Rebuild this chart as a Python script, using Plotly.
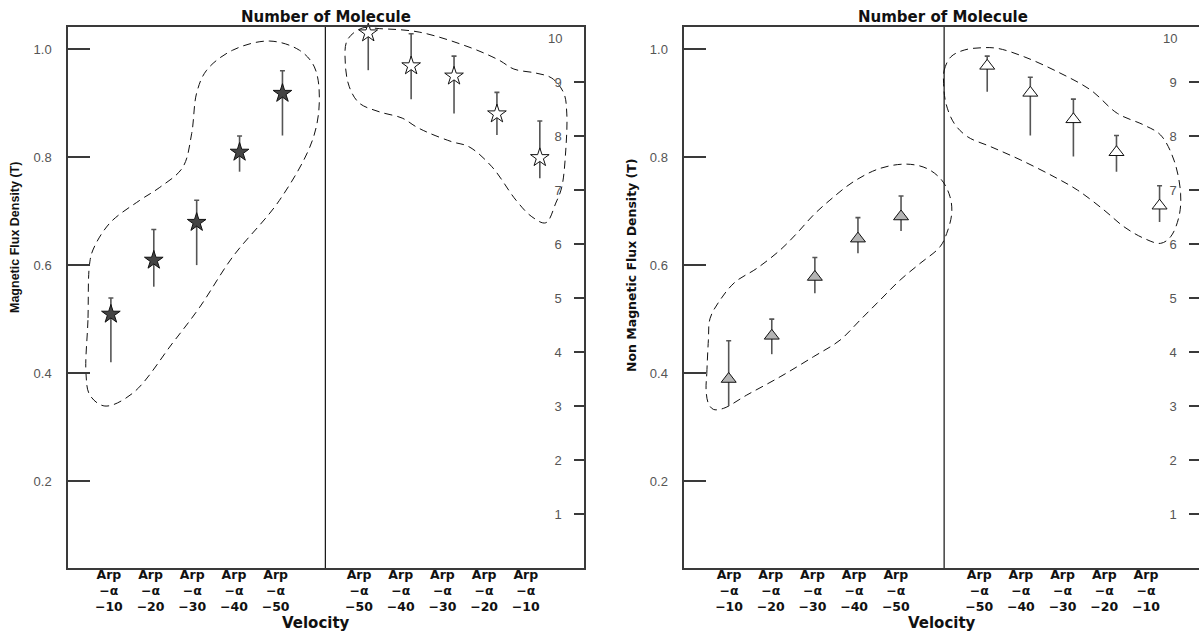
import plotly.graph_objects as go

W, H = 1199, 634
M_T, M_B = 27, 66

# ---------------- data ----------------
categories_left = ["Arp-α-10", "Arp-α-20", "Arp-α-30", "Arp-α-40", "Arp-α-50"]
categories_right = ["Arp-α-50", "Arp-α-40", "Arp-α-30", "Arp-α-20", "Arp-α-10"]
tick_text = ["Arp<br>−α<br>−10", "Arp<br>−α<br>−20", "Arp<br>−α<br>−30", "Arp<br>−α<br>−40", "Arp<br>−α<br>−50",
             "Arp<br>−α<br>−50", "Arp<br>−α<br>−40", "Arp<br>−α<br>−30", "Arp<br>−α<br>−20", "Arp<br>−α<br>−10"]
pos_left = [1, 2, 3, 4, 5]
pos_right = [7, 8, 9, 10, 11]
divider_pos = 6

flux_ticks = [0.2, 0.4, 0.6, 0.8, 1.0]
flux_tick_text = ["0.2", "0.4", "0.6", "0.8", "1.0"]
mol_ticks = [1, 2, 3, 4, 5, 6, 7, 8, 9]
mol_top_label = 10

# Chart 1: Magnetic
mag_flux = [0.509, 0.609, 0.679, 0.809, 0.918]
mag_flux_hi = [0.539, 0.666, 0.720, 0.839, 0.960]
mag_flux_lo = [0.420, 0.560, 0.600, 0.773, 0.840]
mag_mol = [9.91, 9.30, 9.11, 8.41, 7.60]
mag_mol_hi = [9.91, 9.895, 9.48, 8.81, 8.28]
mag_mol_lo = [9.22, 8.68, 8.42, 8.02, 7.22]

# Chart 2: Non magnetic
non_flux = [0.389, 0.469, 0.578, 0.649, 0.690]
non_flux_hi = [0.460, 0.500, 0.614, 0.688, 0.728]
non_flux_lo = [0.339, 0.435, 0.548, 0.622, 0.663]
non_mol = [9.30, 8.80, 8.31, 7.70, 6.71]
non_mol_hi = [9.48, 9.09, 8.685, 8.01, 7.08]
non_mol_lo = [8.82, 8.01, 7.62, 7.34, 6.41]

# hand-drawn dashed enclosures (outline vertices, data units)
blob1_x = [0.50, 0.465, 0.419, 0.512, 0.860, 1.512, 2.442, 3.070, 3.837, 4.930, 5.698, 5.860, 5.744,
           5.395, 4.698, 3.837, 3.233, 3.000, 2.884, 2.674, 2.140, 1.674, 0.977, 0.581, 0.50]
blob1_y = [0.600, 0.498, 0.400, 0.359, 0.339, 0.363, 0.456, 0.522, 0.615, 0.720, 0.831, 0.906, 0.967,
           0.998, 1.015, 0.998, 0.961, 0.919, 0.844, 0.781, 0.744, 0.720, 0.678, 0.628, 0.600]
blob2_x = [6.512, 6.860, 7.256, 8.186, 9.349, 10.047, 10.395, 10.907, 11.279, 11.558, 11.628, 11.605,
           11.512, 11.372, 11.140, 10.814, 10.442, 9.884, 9.349, 8.953, 8.419, 8.116, 7.791, 7.256,
           6.791, 6.558, 6.465, 6.512]
blob2_y = [9.778, 10.00, 9.99, 9.926, 9.648, 9.407, 9.241, 9.167, 9.074, 8.796, 8.426, 7.741,
           7.056, 6.759, 6.394, 6.506, 6.815, 7.431, 7.802, 7.894, 8.056, 8.172, 8.333, 8.450,
           8.611, 8.913, 9.352, 9.778]
blob3_x = [0.476, 0.492, 0.529, 0.568, 0.800, 1.148, 1.652, 2.193, 2.580, 2.965, 3.350, 3.893, 4.513,
           5.132, 5.596, 5.944, 6.137, 6.176, 6.060, 5.905, 5.441, 4.977, 4.513, 4.049, 3.585,
           2.965, 2.193, 1.420, 0.877, 0.645, 0.529, 0.476]
blob3_y = [0.3685, 0.3994, 0.4611, 0.5013, 0.5352, 0.5685, 0.5939, 0.6278, 0.6587, 0.6926, 0.7204,
           0.7543, 0.7791, 0.7870, 0.7791, 0.7574, 0.7265, 0.6957, 0.6587, 0.6339, 0.6031, 0.5722,
           0.5352, 0.4981, 0.4611, 0.4302, 0.3931, 0.3593, 0.3346, 0.3328, 0.3439, 0.3685]
blob4_x = [5.988, 6.002, 6.158, 6.466, 6.853, 7.240, 7.856, 8.630, 9.402, 10.021, 10.637, 11.024,
           11.333, 11.488, 11.449, 11.256, 11.024, 10.637, 10.174, 9.710, 9.094, 8.552, 7.780,
           7.085, 6.545, 6.234, 6.042, 5.988]
blob4_y = [8.976, 9.222, 9.469, 9.593, 9.635, 9.624, 9.469, 9.191, 8.852, 8.420, 8.204, 8.019,
           7.556, 6.939, 6.506, 6.135, 6.013, 6.106, 6.320, 6.630, 7.000, 7.246, 7.556,
           7.802, 7.987, 8.235, 8.606, 8.976]

# ---------------- styling ----------------
AX = "#3a3a3a"
TICKLAB = "#555555"
ERR = "#555555"
TICK_FONT = dict(family="DejaVu Sans", size=12.5, color="#111111", weight="bold")
NUM_FONT = dict(family="Liberation Sans", size=13, color=TICKLAB)
BOLD = "DejaVu Sans"


def py_to_paper(py):
    """pixel row -> paper y (paper spans the plot area)"""
    return (H - M_B - py) / (H - M_T - M_B)


fig = go.Figure()


def add_points(xs, ys, hi, lo, xa, ya, symbol, fill, size):
    up = [h - v for h, v in zip(hi, ys)]
    down = [v - l for v, l in zip(ys, lo)]
    # lower whisker, no cap
    fig.add_trace(go.Scatter(x=xs, y=ys, xaxis=xa, yaxis=ya, mode="markers",
                             marker=dict(size=1, opacity=0), showlegend=False, hoverinfo="skip",
                             error_y=dict(type="data", symmetric=False, array=[0] * len(xs), arrayminus=down,
                                          color=ERR, thickness=1.6, width=0)))
    # upper whisker with cap + marker
    fig.add_trace(go.Scatter(x=xs, y=ys, xaxis=xa, yaxis=ya, mode="markers", cliponaxis=False,
                             marker=dict(symbol=symbol, size=size, color=fill, line=dict(color="#111111", width=1)),
                             showlegend=False,
                             error_y=dict(type="data", symmetric=False, array=up, arrayminus=[0] * len(xs),
                                          color=ERR, thickness=1.6, width=2.5)))


def add_blob(bx, by, xa, ya):
    fig.add_trace(go.Scatter(x=bx, y=by, xaxis=xa, yaxis=ya, mode="lines",
                             line=dict(color="#111111", width=1, dash="8px,5px", shape="spline", smoothing=1.0),
                             showlegend=False, hoverinfo="skip"))


add_blob(blob1_x, blob1_y, "x", "y")
add_blob(blob2_x, blob2_y, "x", "y2")
add_blob(blob3_x, blob3_y, "x2", "y3")
add_blob(blob4_x, blob4_y, "x2", "y4")

add_points(pos_left, mag_flux, mag_flux_hi, mag_flux_lo, "x", "y", "star", "#444444", 14)
add_points(pos_right, mag_mol, mag_mol_hi, mag_mol_lo, "x", "y2", "star", "white", 14)
add_points(pos_left, non_flux, non_flux_hi, non_flux_lo, "x2", "y3", "triangle-up", "#b4b4b4", 13)
add_points(pos_right, non_mol, non_mol_hi, non_mol_lo, "x2", "y4", "triangle-up", "white", 13)

# label layout positions (labels sit on a slightly tighter grid than the markers)
all_pos = pos_left + pos_right
lab1 = [0.953 + 0.972 * (p - 1) for p in all_pos]
lab2 = [1.009 + 0.9675 * (p - 1) for p in all_pos]

x1_dom = [68 / W, 584 / W]
x2_dom = [684.3 / W, 1.0]

common_x = dict(showline=True, mirror=True, linecolor=AX, linewidth=1.5, ticks="", showgrid=False,
                zeroline=False, tickfont=TICK_FONT, ticktext=tick_text, ticklabelstandoff=-6)
left_y = dict(range=[0.039, 1.041], tickvals=flux_ticks, ticktext=flux_tick_text, ticks="inside", ticklen=22,
              tickwidth=1.5, tickcolor=AX, showline=True, linecolor=AX, linewidth=1.5, showgrid=False,
              zeroline=False, tickfont=NUM_FONT, ticklabelstandoff=12)
right_y = dict(range=[0, 10.02], tickvals=mol_ticks, side="right", ticks="inside", ticklen=10, tickwidth=1.5,
               tickcolor=AX, ticklabelposition="inside", showline=True, linecolor=AX, linewidth=1.5,
               showgrid=False, zeroline=False, tickfont=NUM_FONT, ticklabelstandoff=12)

fig.update_layout(
    width=W, height=H, paper_bgcolor="white", plot_bgcolor="white",
    margin=dict(l=0, r=0, t=M_T, b=M_B, pad=0),
    xaxis=dict(domain=x1_dom, range=[0, 12.03], anchor="y", tickvals=lab1, **common_x),
    yaxis=dict(anchor="x", **left_y),
    yaxis2=dict(anchor="x", overlaying="y", **right_y),
    xaxis2=dict(domain=x2_dom, range=[-0.03, 11.915], anchor="y3", tickvals=lab2, **common_x),
    yaxis3=dict(anchor="x2", **left_y),
    yaxis4=dict(anchor="x2", overlaying="y3", **right_y),
    showlegend=False,
)

# top "10" label of the molecule axes (no tick mark there; nudged inside the frame)
for xd, ya in (("x domain", "y2"), ("x2 domain", "y4")):
    fig.add_annotation(text=str(mol_top_label), xref=xd, yref=ya, x=1, y=mol_top_label, xanchor="right",
                       yanchor="middle", xshift=-21, yshift=-10, showarrow=False, borderpad=0, font=NUM_FONT)

# divider lines between the two halves of each chart
for xa, ya in (("x", "y"), ("x2", "y3")):
    fig.add_shape(type="line", xref=xa, yref=f"{ya} domain", x0=divider_pos, x1=divider_pos, y0=0, y1=1,
                  line=dict(color="#111111", width=1.2))

# titles
for cx in (326, 943):
    fig.add_annotation(text="<b>Number of Molecule</b>", xref="paper", yref="paper", x=cx / W,
                       y=py_to_paper(17), yanchor="middle", showarrow=False, xanchor="center",
                       font=dict(family=BOLD, size=15, color="#111111"))
for cx in (316, 942):
    fig.add_annotation(text="<b>Velocity</b>", xref="paper", yref="paper", x=cx / W, y=py_to_paper(623),
                       showarrow=False, xanchor="center", yanchor="middle",
                       font=dict(family=BOLD, size=15, color="#111111"))
fig.add_annotation(text="<b>Magnetic Flux Density (T)</b>", xref="paper", yref="paper", x=15 / W,
                   y=py_to_paper(238), textangle=-90, showarrow=False, xanchor="center", yanchor="middle",
                   font=dict(family="Liberation Sans", size=12.5, color="#111111"))
fig.add_annotation(text="<b>Non Magnetic Flux Density (T)</b>", xref="paper", yref="paper", x=631 / W,
                   y=py_to_paper(265), textangle=-90, showarrow=False, xanchor="center", yanchor="middle",
                   font=dict(family="DejaVu Sans", size=12.5, color="#111111"))

fig.write_html("out.html", config={"displayModeBar": False},
               post_script="document.body.style.margin='0';document.body.style.overflow='hidden';")
